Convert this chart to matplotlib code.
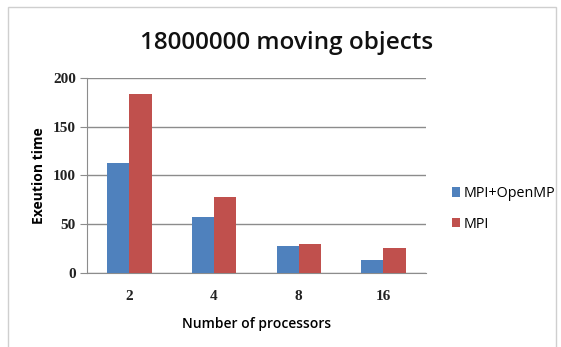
import numpy as np
import matplotlib.pyplot as plt
from matplotlib.patches import Rectangle

# Data
processors = ['2', '4', '8', '16']
mpi_openmp = [113, 57, 27.5, 13]
mpi = [184, 78, 30, 26]

blue = '#4f81bd'
red = '#c0504d'

fig = plt.figure(figsize=(5.61, 3.47), dpi=100)
fig.patch.set_facecolor('white')
# light frame around the whole chart
fig.add_artist(Rectangle((0.014, -0.05), 0.977, 1.03, transform=fig.transFigure,
                         fill=False, edgecolor='#cfcfcf', linewidth=1))

ax = fig.add_axes([0.155, 0.2133, 0.604, 0.562])
x = np.arange(len(processors))
w = 0.262
ax.bar(x - w / 2, mpi_openmp, w, color=blue, label='MPI+OpenMP', zorder=3)
ax.bar(x + w / 2, mpi, w, color=red, label='MPI', zorder=3)

ax.set_xlim(-0.5, 3.5)
ax.set_ylim(0, 200)
ax.set_yticks([0, 50, 100, 150, 200])
ax.set_xticks(x)
ax.set_xticklabels(processors)
ax.yaxis.grid(True, color='#8c8c8c', linewidth=1, zorder=0)

for s in ['top', 'right']:
    ax.spines[s].set_visible(False)
ax.spines['left'].set_color('#8c8c8c')
ax.spines['bottom'].set_color('#8c8c8c')
ax.tick_params(axis='y', length=5, color='#8c8c8c', pad=3)
ax.tick_params(axis='x', length=0, pad=12)
for lab in ax.get_xticklabels() + ax.get_yticklabels():
    lab.set_family('Liberation Serif')
    lab.set_fontsize(11)
    lab.set_fontweight('bold')
    lab.set_color('#222222')

ax.set_ylabel('Exeution time', family='Open Sans', fontsize=10, fontweight='bold', labelpad=5)
ax.set_xlabel('Number of processors', family='Open Sans', fontsize=10,
              fontweight='semibold', labelpad=10)

fig.text(0.51, 0.875, '18000000 moving objects', ha='center', va='center',
         family='Open Sans', fontsize=17.5, fontweight='semibold', color='#111111')

fig.legend(loc='center left', bbox_to_anchor=(0.795, 0.398), frameon=False,
           prop={'family': 'Open Sans', 'size': 10.3}, handlelength=0.6,
           handleheight=0.6, handletextpad=0.2, labelspacing=1.1, borderaxespad=0)

fig.savefig('out.png', dpi=100)
